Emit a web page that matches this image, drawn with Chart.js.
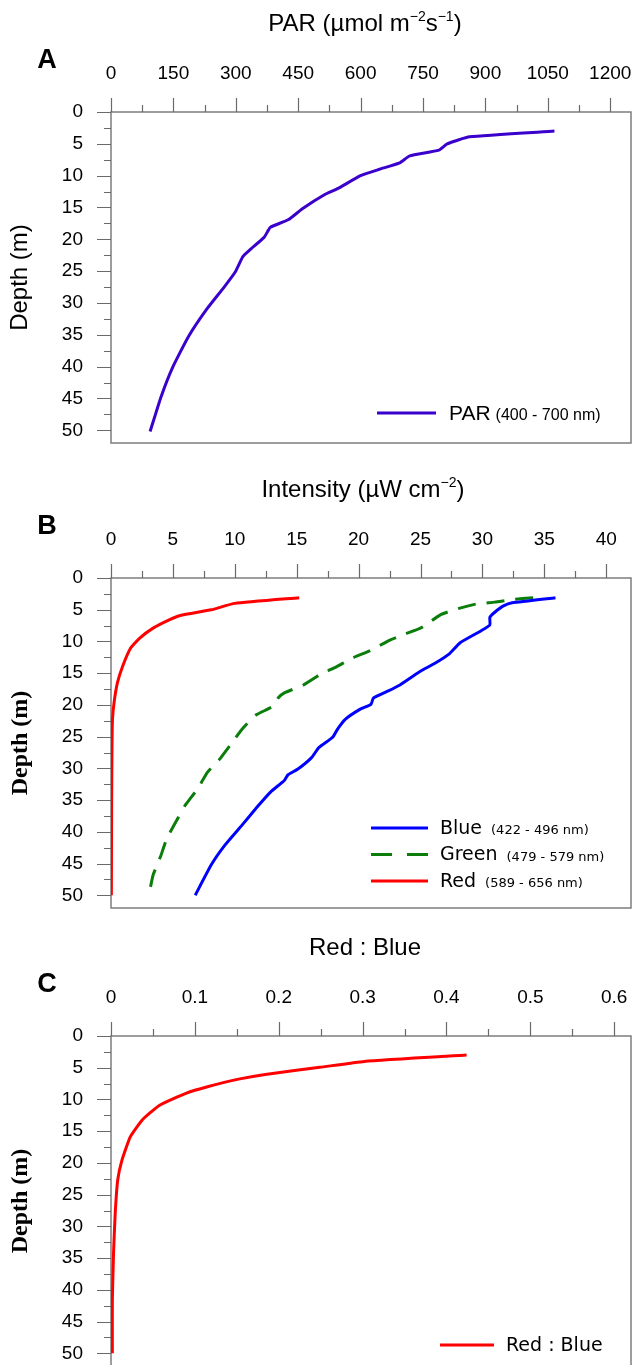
<!DOCTYPE html>
<html>
<head>
<meta charset="utf-8">
<script src="https://cdn.jsdelivr.net/npm/chart.js@4.4.1/dist/chart.umd.min.js"></script>
<style>
  html, body { margin: 0; padding: 0; background: #fff; overflow: hidden; }
  .panel { position: absolute; left: 0; width: 634px; }
  #pa { top: 0; height: 460px; }
  #pb { top: 460px; height: 465px; }
  #pc { top: 925px; height: 443px; }
</style>
</head>
<body>
<div class="panel" id="pa"><canvas id="chartA"></canvas></div>
<div class="panel" id="pb"><canvas id="chartB"></canvas></div>
<div class="panel" id="pc"><canvas id="chartC"></canvas></div>
<script>
// -------------------------------------------- data
const parDepth = [3, 3.9, 5, 6, 6.9, 8, 9, 10, 12, 13, 15.2, 16.9, 18.1, 18.6, 19.7, 21.7, 22.7, 25.1, 27.5, 30.9, 35.3, 40, 44.8, 50.2];
const parValue = [1066, 862, 808, 788, 718, 694, 645, 600, 546, 513, 460, 427, 383, 378, 368, 333, 317, 299, 272, 231, 186, 149, 120, 94];

const blueDepth = [3.1, 3.9, 4.4, 5.4, 6.2, 7.4, 8.3, 10.2, 12, 13.4, 14.8, 16.9, 17.8, 18.9, 19.9, 20.7, 22.3, 23.8, 25.1, 26.7, 28.3, 30.1, 31, 31.9, 33.7, 36.1, 38.9, 42.1, 45.2, 50];
const blueValue = [35.9, 32.4, 31.7, 31.0, 30.6, 30.6, 29.9, 28.2, 27.3, 26.2, 24.9, 23.3, 22.4, 21.2, 21.0, 20.1, 18.9, 18.3, 17.9, 16.8, 16.2, 15.1, 14.3, 14.0, 12.9, 11.8, 10.6, 9.2, 8.1, 6.8];

const greenDepth = [3.1, 3.4, 3.8, 4.1, 4.9, 5.8, 7.8, 8.8, 9.9, 11.3, 12.6, 14, 15.2, 16.9, 18.1, 18.9, 20.2, 21.6, 23.8, 25.9, 28.5, 30.6, 33.2, 35.8, 38.2, 41.1, 43.9, 46.8, 49.6];
const greenValue = [34.1, 32.4, 31.0, 29.5, 27.9, 26.6, 25.1, 23.8, 22.4, 21.1, 19.5, 18.2, 16.9, 15.5, 14.0, 13.5, 13.1, 11.7, 10.6, 9.8, 8.8, 7.8, 7.0, 6.0, 5.3, 4.5, 4.0, 3.4, 3.1];

const redDepth = [3.1, 4, 5, 5.9, 6.6, 7.9, 9.5, 11, 13.9, 16.5, 19.6, 22.3, 26.4, 35, 50];
const redValue = [15.2, 10.0, 8.1, 5.6, 4.7, 3.4, 2.3, 1.6, 0.94, 0.52, 0.25, 0.12, 0.08, 0.05, 0.03];

const ratioDepth = [3, 4, 4.94, 6.05, 6.8, 8, 9, 10.9, 13.2, 15.9, 19.6, 22.7, 28, 34.3, 41.6, 50];
const ratioValue = [0.424, 0.302, 0.249, 0.184, 0.152, 0.115, 0.090, 0.058, 0.0375, 0.023, 0.013, 0.008, 0.005, 0.003, 0.0016, 0.0016];

const depthMax = 52;

function toPoints(depths, values) {
    return depths.map((d, i) => ({ x: values[i], y: d }));
}

// -------------------------------------------- plugins
// frame + major/minor tick marks, drawn through the chart's own scales
const frameTicks = {
    id: 'frameTicks',
    beforeDatasetsDraw(chart, args, opts) {
        const ctx = chart.ctx;
        const a = chart.chartArea;
        const x = chart.scales.x;
        const y = chart.scales.y;
        ctx.save();
        ctx.strokeStyle = '#7d7d7d';
        ctx.lineWidth = 1.5;
        ctx.strokeRect(a.left, a.top, a.right - a.left, a.bottom - a.top);
        ctx.lineWidth = 1.2;
        ctx.strokeStyle = '#6a6a6a';
        ctx.beginPath();
        for (let i = 0; i * opts.xMinor <= x.max + 1e-9; i++) {
            const px = Math.round(x.getPixelForValue(i * opts.xMinor)) + 0.5;
            ctx.moveTo(px, a.top);
            ctx.lineTo(px, a.top - (i % 2 === 0 ? 14 : 7));
        }
        for (let i = 0; i * 2.5 <= 50; i++) {
            const py = Math.round(y.getPixelForValue(i * 2.5)) + 0.5;
            ctx.moveTo(a.left, py);
            ctx.lineTo(a.left - (i % 2 === 0 ? 14 : 7), py);
        }
        ctx.stroke();
        ctx.restore();
    }
};

// panel letter + axis title with superscripts
const panelTitle = {
    id: 'panelTitle',
    afterDraw(chart, args, opts) {
        const ctx = chart.ctx;
        const a = chart.chartArea;
        ctx.save();
        ctx.fillStyle = '#000';
        ctx.textBaseline = 'middle';
        ctx.font = 'bold 27px "Liberation Sans", Arial, sans-serif';
        ctx.textAlign = 'center';
        ctx.fillText(opts.letter, 47, a.top - 51);

        const big = '24px "Liberation Sans", Arial, sans-serif';
        const small = '14px "Liberation Sans", Arial, sans-serif';
        let total = 0;
        for (const p of opts.parts) {
            ctx.font = p[1] ? small : big;
            total += ctx.measureText(p[0]).width;
        }
        let cx = opts.cx - total / 2;
        const cy = a.top - 88;
        ctx.textAlign = 'left';
        for (const p of opts.parts) {
            ctx.font = p[1] ? small : big;
            ctx.fillText(p[0], cx, p[1] ? cy - 7 : cy);
            cx += ctx.measureText(p[0]).width;
        }
        ctx.restore();
    }
};

// legend in the lower right corner of the plot area
const cornerLegend = {
    id: 'cornerLegend',
    afterDraw(chart, args, opts) {
        const ctx = chart.ctx;
        const a = chart.chartArea;
        ctx.save();
        ctx.textBaseline = 'middle';
        ctx.textAlign = 'left';
        opts.items.forEach((it, i) => {
            const yy = a.bottom - opts.bottom + i * opts.rowGap;
            ctx.strokeStyle = it.color;
            ctx.lineWidth = 3;
            ctx.setLineDash(it.dash || []);
            ctx.beginPath();
            ctx.moveTo(a.right - opts.lineStart, yy);
            ctx.lineTo(a.right - opts.lineEnd, yy);
            ctx.stroke();
            ctx.setLineDash([]);
            ctx.fillStyle = '#000';
            ctx.font = opts.bigFont;
            const tx = a.right - opts.textStart;
            ctx.fillText(it.label, tx, yy + 1);
            if (it.range) {
                const w = ctx.measureText(it.label).width;
                ctx.font = opts.smallFont;
                ctx.fillText(it.range, tx + w + opts.rangeGap, yy + 3);
            }
        });
        ctx.restore();
    }
};

function makeScales(xMax, xStep, topHeight, yTitleFont) {
    return {
        x: {
            type: 'linear',
            position: 'top',
            min: 0,
            max: xMax,
            grid: { display: false, drawTicks: false },
            border: { display: false },
            ticks: {
                stepSize: xStep,
                includeBounds: false,
                padding: 27,
                color: '#000',
                format: { useGrouping: false },
                font: { family: '"Liberation Sans", Arial, sans-serif', size: 19 },
                maxRotation: 0,
                autoSkip: false
            },
            afterFit: (s) => {
                s.height = topHeight;
                s.paddingLeft = 0;
                s.paddingRight = 0;
            }
        },
        y: {
            type: 'linear',
            reverse: true,
            min: 0,
            max: depthMax,
            grid: { display: false, drawTicks: false },
            border: { display: false },
            ticks: {
                stepSize: 5,
                includeBounds: false,
                padding: 28,
                color: '#000',
                font: { family: '"Liberation Sans", Arial, sans-serif', size: 19 }
            },
            title: {
                display: true,
                text: 'Depth (m)',
                color: '#000',
                font: yTitleFont,
                padding: { top: 6, bottom: 0 }
            },
            afterFit: (s) => {
                s.width = 111;
                s.paddingTop = 0;
                s.paddingBottom = 0;
            }
        }
    };
}

function lineSet(label, points, color, dash) {
    return {
        label: label,
        data: points,
        showLine: true,
        borderColor: color,
        backgroundColor: color,
        borderWidth: 3,
        borderDash: dash || [],
        pointRadius: 0,
        tension: 0.15,
        fill: false
    };
}

Chart.defaults.animation = false;

// -------------------------------------------- A: PAR
new Chart(document.querySelector('#chartA'), {
    type: 'scatter',
    data: {
        datasets: [lineSet('PAR', toPoints(parDepth, parValue), '#3a00cc')]
    },
    options: {
        responsive: true,
        maintainAspectRatio: false,
        layout: { padding: { top: 0, right: 3, bottom: 17, left: 0 } },
        scales: makeScales(1250, 150, 112, { family: '"Liberation Sans", Arial, sans-serif', size: 24 }),
        plugins: {
            legend: { display: false },
            tooltip: { enabled: false },
            frameTicks: { xMinor: 75 },
            panelTitle: { letter: 'A', cx: 365, parts: [['PAR (µmol m', 0], ['−2', 1], ['s', 0], ['−1', 1], [')', 0]] },
            cornerLegend: {
                items: [{ label: 'PAR', range: '(400 - 700 nm)', color: '#3a00cc' }],
                bottom: 30, rowGap: 0, lineStart: 254, lineEnd: 195, textStart: 182, rangeGap: 5,
                bigFont: '21px "Liberation Sans", Arial, sans-serif',
                smallFont: '16px "Liberation Sans", Arial, sans-serif'
            }
        }
    },
    plugins: [frameTicks, panelTitle, cornerLegend]
});

// -------------------------------------------- B: Intensity
new Chart(document.querySelector('#chartB'), {
    type: 'scatter',
    data: {
        datasets: [
            lineSet('Blue', toPoints(blueDepth, blueValue), '#0000ff'),
            lineSet('Green', toPoints(greenDepth, greenValue), '#0a7d0a', [18, 11]),
            lineSet('Red', toPoints(redDepth, redValue), '#ff0000')
        ]
    },
    options: {
        responsive: true,
        maintainAspectRatio: false,
        layout: { padding: { top: 0, right: 3, bottom: 17, left: 0 } },
        scales: makeScales(42, 5, 118, { family: '"Liberation Serif", "Times New Roman", serif', size: 24, weight: 'bold' }),
        plugins: {
            legend: { display: false },
            tooltip: { enabled: false },
            frameTicks: { xMinor: 2.5 },
            panelTitle: { letter: 'B', cx: 363, parts: [['Intensity (µW cm', 0], ['−2', 1], [')', 0]] },
            cornerLegend: {
                items: [
                    { label: 'Blue', range: '(422 - 496 nm)', color: '#0000ff' },
                    { label: 'Green', range: '(479 - 579 nm)', color: '#0a7d0a', dash: [21, 15] },
                    { label: 'Red', range: '(589 - 656 nm)', color: '#ff0000' }
                ],
                bottom: 80, rowGap: 26.5, lineStart: 260, lineEnd: 203, textStart: 191, rangeGap: 9,
                bigFont: '19px "DejaVu Sans", Verdana, sans-serif',
                smallFont: '13px "DejaVu Sans", Verdana, sans-serif'
            }
        }
    },
    plugins: [frameTicks, panelTitle, cornerLegend]
});

// -------------------------------------------- C: Red : Blue
new Chart(document.querySelector('#chartC'), {
    type: 'scatter',
    data: {
        datasets: [lineSet('Red : Blue', toPoints(ratioDepth, ratioValue), '#ff0000')]
    },
    options: {
        responsive: true,
        maintainAspectRatio: false,
        layout: { padding: { top: 0, right: 3, bottom: 2, left: 0 } },
        scales: makeScales(0.62, 0.1, 111, { family: '"Liberation Serif", "Times New Roman", serif', size: 24, weight: 'bold' }),
        plugins: {
            legend: { display: false },
            tooltip: { enabled: false },
            frameTicks: { xMinor: 0.05 },
            panelTitle: { letter: 'C', cx: 365, parts: [['Red : Blue', 0]] },
            cornerLegend: {
                items: [{ label: 'Red : Blue', color: '#ff0000' }],
                bottom: 21, rowGap: 0, lineStart: 191, lineEnd: 137, textStart: 125, rangeGap: 0,
                bigFont: '19px "DejaVu Sans", Verdana, sans-serif',
                smallFont: '12px "DejaVu Sans", Verdana, sans-serif'
            }
        }
    },
    plugins: [frameTicks, panelTitle, cornerLegend]
});
</script>
</body>
</html>
